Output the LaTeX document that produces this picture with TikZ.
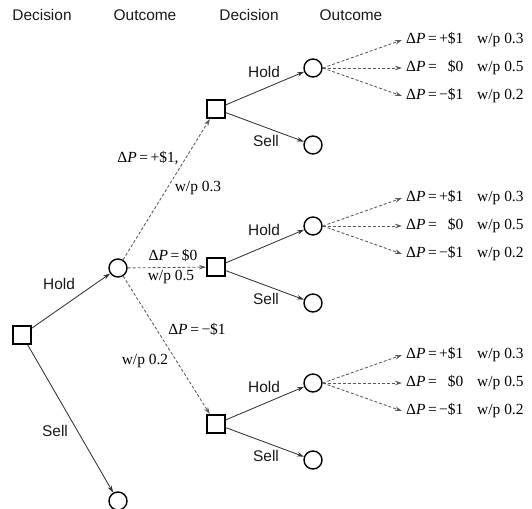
\documentclass[tikz,border=0pt]{standalone}
\usepackage{fontspec}
\setmainfont{Liberation Serif}
\setsansfont{Liberation Sans}
\usetikzlibrary{arrows.meta}

\newcommand{\pay}[3]{Δ\textit{P}\,=\,\makebox[1.55em][r]{#1\$#2}\hspace{0.9em}w/p #3}

\begin{document}
\begin{tikzpicture}[x=1bp,y=-1bp,
    dec/.style={rectangle,draw,line width=2.4bp,minimum size=17.5bp,inner sep=0pt},
    outc/.style={circle,draw,line width=1.4bp,minimum size=18bp,inner sep=0pt},
    act/.style={draw=black!80,line width=0.85bp,-{Stealth[length=7bp,width=4.5bp]}},
    chance/.style={act,densely dashed,draw=black!65},
    lbl/.style={font=\sffamily\fontsize{15.5}{18}\selectfont,text=black!90,inner sep=0pt},
    val/.style={font=\fontsize{15.5}{18}\selectfont,inner sep=0pt}]
  \useasboundingbox (0,0) rectangle (532,509);
  % column titles
  \node[lbl] (t1) at (42,15) {Decision};
  \node[lbl] (t2) at (145,15) {Outcome};
  \node[lbl] (t3) at (249,15) {Decision};
  \node[lbl] (t4) at (351,15) {Outcome};
  % first decision
  \node[dec] (r) at (22,335) {};
  \node[outc] (rh) at (118,268) {};
  \node[outc] (rs) at (118,501) {};
  \draw[act] (r)--(rh);
  \draw[act] (r)--(rs);
  \node[lbl] (rhl) at (59,284) {Hold};
  \node[lbl] (rsl) at (55,431) {Sell};
  % second decisions
  \foreach \i/\y in {1/109,2/267,3/424}{
    \node[dec] (d\i) at (216,\y) {};
    \node[outc] (h\i) at (313,\y-41) {};
    \node[outc] (s\i) at (313,\y+36) {};
    \draw[act] (d\i)--(h\i);
    \draw[act] (d\i)--(s\i);
    \node[lbl] (hl\i) at (264,\y-37) {Hold};
    \node[lbl] (sl\i) at (266,\y+32) {Sell};
    \draw[chance] (rh)--(d\i);
    \coordinate (u\i) at (402,\y-41-28);
    \coordinate (z\i) at (402,\y-41);
    \coordinate (m\i) at (402,\y-41+28);
    \draw[chance] (h\i.east)--(u\i);
    \draw[chance] (h\i.east)--(z\i);
    \draw[chance] (h\i.east)--(m\i);
    \node[val,anchor=west] (ul\i) at ([xshift=4]u\i) {\pay{+}{1}{0.3}};
    \node[val,anchor=west] (zl\i) at ([xshift=4]z\i) {\pay{}{0}{0.5}};
    \node[val,anchor=west] (ml\i) at ([xshift=4]m\i) {\pay{−}{1}{0.2}};
  }
  % outcome labels
  \node[val] (a1) at (148,158) {Δ\textit{P}\,=\,+\$1,};
  \node[val] (b1) at (198,188) {w/p 0.3};
  \node[val] (a2) at (173,255) {Δ\textit{P}\,=\,\$0};
  \node[val] (b2) at (171,277) {w/p 0.5};
  \node[val] (a3) at (197,329) {Δ\textit{P}\,=\,−\$1};
  \node[val] (b3) at (145,361) {w/p 0.2};
\end{tikzpicture}
\end{document}
